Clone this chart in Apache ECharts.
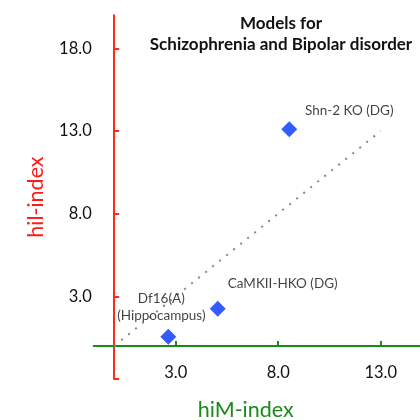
<!DOCTYPE html>
<html>
<head>
<meta charset="utf-8">
<script src="https://cdn.jsdelivr.net/npm/echarts@6/dist/echarts.min.js"></script>
<style>html,body{margin:0;padding:0;background:#fff}#c{width:420px;height:420px}</style>
</head>
<body>
<div id="c"></div>
<script>
const modelNames = ['Df16(A)\n(Hippocampus)', 'CaMKII-HKO (DG)', 'Shn-2 KO (DG)'];
const himValues = [2.64, 5.05, 8.54];
const hilValues = [0.56, 2.25, 13.1];
const refLineX = [0, 13];
const refLineY = [0, 13];
const xTickValues = [3, 8, 13];
const yTickValues = [-2, 3, 8, 13, 18];
const yLabelValues = [3, 8, 13, 18];

const labelOffsets = [[-7, -30], [65, -25], [60, -19]];
const FONT = 'Lato';

const points = himValues.map((x, i) => ({
  value: [x, hilValues[i]],
  name: modelNames[i],
  label: { offset: labelOffsets[i] }
}));

const chart = echarts.init(document.getElementById('c'), null, { renderer: 'canvas' });
chart.setOption({
  animation: false,
  backgroundColor: '#fff',
  title: {
    text: 'Models for\nSchizophrenia and Bipolar disorder',
    left: 276, top: 8, textAlign: 'center',
    textStyle: { fontFamily: FONT, fontWeight: 'bold', fontSize: 17, color: '#111', lineHeight: 21 }
  },
  grid: { left: 93.7, top: 15.2, width: 328, height: 363.8, outerBoundsMode: 'none', containLabel: false },
  xAxis: {
    type: 'value', min: -1, max: 15,
    splitLine: { show: false },
    axisLine: { onZero: true, lineStyle: { color: '#1a8a1a', width: 2 } },
    axisTick: { inside: true, length: 5, lineStyle: { color: '#1a8a1a', width: 2 }, customValues: xTickValues },
    axisLabel: { customValues: xTickValues, formatter: v => v.toFixed(1), fontFamily: FONT, fontSize: 16.5, color: '#111', margin: -15 },
    name: 'hiM-index', nameLocation: 'middle', nameGap: 20, nameMoveOverlap: false,
    nameTextStyle: { fontFamily: FONT, fontSize: 21.5, color: '#1a8a1a', padding: [0, 24, 0, 0] }
  },
  yAxis: {
    type: 'value', min: -2, max: 20,
    splitLine: { show: false },
    axisLine: { onZero: true, lineStyle: { color: '#ff2a1a', width: 2 } },
    axisTick: { inside: true, length: 5, lineStyle: { color: '#ff2a1a', width: 2 }, customValues: yTickValues },
    axisLabel: { customValues: yLabelValues, formatter: v => v.toFixed(1), fontFamily: FONT, fontSize: 16.5, color: '#111', margin: 2 },
    name: 'hil-index', nameLocation: 'middle', nameGap: 47, nameMoveOverlap: false,
    nameTextStyle: { fontFamily: FONT, fontSize: 21.5, color: '#ff1a1a' }
  },
  series: [
    {
      type: 'line',
      data: refLineX.map((x, i) => [x, refLineY[i]]),
      symbol: 'none',
      lineStyle: { color: '#888', width: 2, type: [2, 7] },
      silent: true, z: 1
    },
    {
      type: 'scatter',
      data: points,
      symbol: 'diamond', symbolSize: 16,
      itemStyle: { color: '#0033ff' },
      label: {
        show: true, position: 'inside',
        formatter: p => p.name,
        fontFamily: FONT, fontSize: 13.5, color: '#111', lineHeight: 17, align: 'center'
      },
      z: 3
    }
  ]
});
</script>
</body>
</html>
